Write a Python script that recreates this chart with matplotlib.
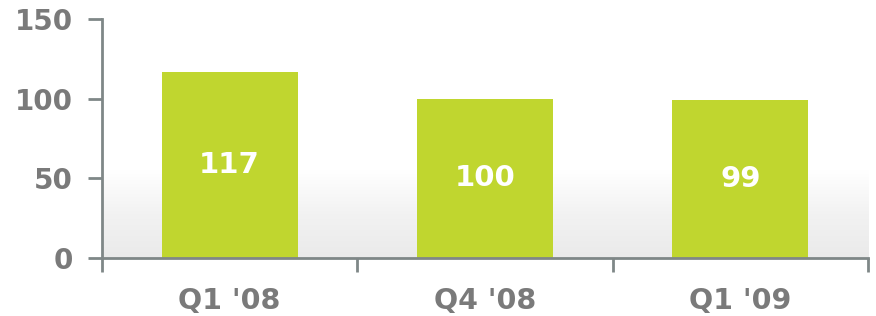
import numpy as np
import matplotlib.pyplot as plt

categories = ["Q1 '08", "Q4 '08", "Q1 '09"]
values = [117, 100, 99]
y_ticks = [0, 50, 100, 150]

bar_color = "#c0d62f"
text_gray = "#7a7a7a"
axis_gray = "#7f8787"

fig = plt.figure(figsize=(8.76, 3.16), dpi=100)
ax = fig.add_axes([0.1164, 0.1835, 0.8745, 0.7563])

x = np.arange(len(categories))

# soft gray gradient at the bottom of the plot area
grad = np.linspace(0, 1, 256).reshape(-1, 1)
ax.imshow(grad, extent=[-0.5, 2.5, 0, 55], origin="lower", aspect="auto",
          cmap=plt.matplotlib.colors.LinearSegmentedColormap.from_list(
              "g", ["#eaeaea", "#f2f2f2", "#ffffff"]), zorder=0)

ax.bar(x, values, width=0.533, color=bar_color, zorder=2)
for xi, v in zip(x, values):
    ax.text(xi, v / 2, str(v), ha="center", va="center", color="white",
            fontsize=21, fontweight="bold", zorder=3)

ax.set_xlim(-0.5, 2.5)
ax.set_ylim(0, 150)
ax.set_yticks(y_ticks)
ax.set_xticks(x)
ax.set_xticklabels(categories)
ax.set_xticks([-0.5, 0.5, 1.5, 2.5], minor=True)

for s in ["top", "right"]:
    ax.spines[s].set_visible(False)
for s in ["left", "bottom"]:
    ax.spines[s].set_color(axis_gray)
    ax.spines[s].set_linewidth(2)

ax.tick_params(axis="y", length=10, width=2, color=axis_gray, pad=11,
               labelsize=20, labelcolor=text_gray)
ax.tick_params(axis="x", which="major", length=0, pad=21,
               labelsize=20.5, labelcolor=text_gray)
ax.tick_params(axis="x", which="minor", length=10, width=2, color=axis_gray)
for lab in ax.get_xticklabels() + ax.get_yticklabels():
    lab.set_fontweight("bold")

fig.savefig("out.png", dpi=100)
